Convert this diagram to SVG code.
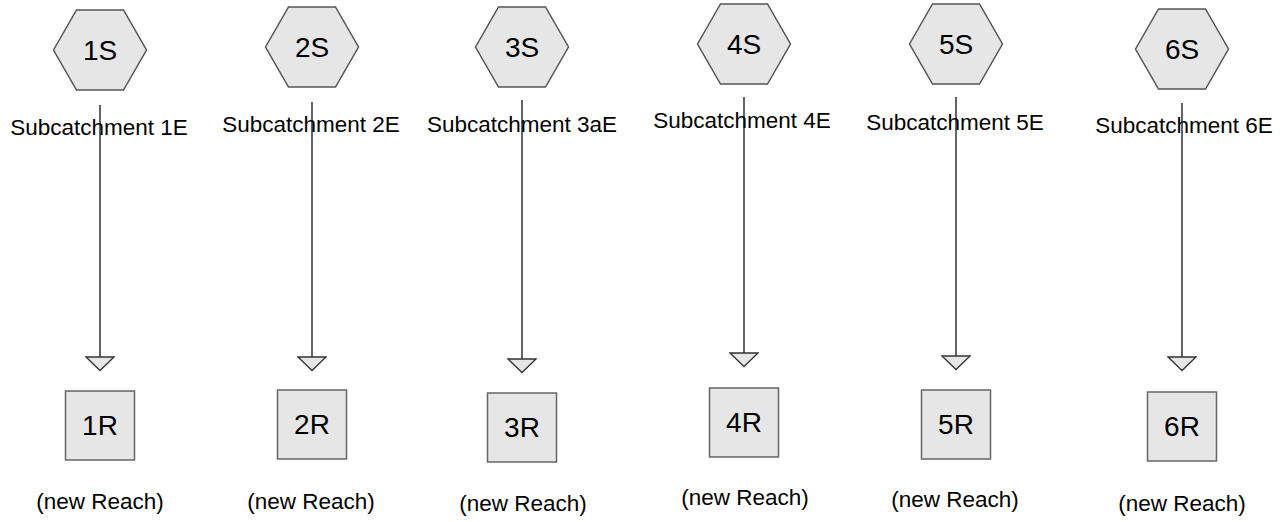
<svg xmlns="http://www.w3.org/2000/svg" width="1286" height="522" viewBox="0 0 1286 522">
<defs>
<style>
.hex{fill:#e6e6e6;stroke:#555;stroke-width:1.5}
.box{fill:#e6e6e6;stroke:#666;stroke-width:1.5}
.big{font-family:"Liberation Sans",Arial,sans-serif;font-size:28px;fill:#000;text-anchor:middle}
.lbl{font-family:"Liberation Sans",Arial,sans-serif;font-size:22.5px;fill:#000;text-anchor:middle}
.conn{stroke:#222;stroke-width:1.4;fill:none;marker-end:url(#tri)}
</style>
<marker id="tri" markerUnits="userSpaceOnUse" viewBox="-1 -15 17 30" markerWidth="17" markerHeight="30" refX="0" refY="0" orient="auto">
<path d="M0,-14 L13.5,0 L0,14 Z" fill="#e6e6e6" stroke="#333" stroke-width="1.3"/>
</marker>
<polygon id="hx" points="-46.5,0 -23.5,-40 23.5,-40 46.5,0 23.5,40 -23.5,40"/>
</defs>
<rect width="1286" height="522" fill="#fff"/>
<g id="connectors">
<line class="conn" x1="100" y1="105" x2="100" y2="357"/>
<line class="conn" x1="312" y1="102" x2="312" y2="357"/>
<line class="conn" x1="522" y1="100" x2="522" y2="359"/>
<line class="conn" x1="744" y1="97" x2="744" y2="353"/>
<line class="conn" x1="956" y1="97" x2="956" y2="356"/>
<line class="conn" x1="1182" y1="103" x2="1182" y2="357"/>
</g>
<g id="n1S"><use href="#hx" class="hex" x="100" y="50"/><text class="big" x="100" y="60">1S</text><text class="lbl" x="99" y="135">Subcatchment 1E</text></g>
<g id="n2S"><use href="#hx" class="hex" x="312" y="47"/><text class="big" x="312" y="57">2S</text><text class="lbl" x="311" y="132">Subcatchment 2E</text></g>
<g id="n3S"><use href="#hx" class="hex" x="522" y="47"/><text class="big" x="522" y="57">3S</text><text class="lbl" x="522" y="132">Subcatchment 3aE</text></g>
<g id="n4S"><use href="#hx" class="hex" x="744" y="44"/><text class="big" x="744" y="54">4S</text><text class="lbl" x="742" y="128">Subcatchment 4E</text></g>
<g id="n5S"><use href="#hx" class="hex" x="956" y="44"/><text class="big" x="956" y="54">5S</text><text class="lbl" x="955" y="130">Subcatchment 5E</text></g>
<g id="n6S"><use href="#hx" class="hex" x="1182" y="49"/><text class="big" x="1182" y="59">6S</text><text class="lbl" x="1184" y="133">Subcatchment 6E</text></g>
<g id="n1R"><rect class="box" x="65.5" y="391" width="69" height="69"/><text class="big" x="100" y="435">1R</text><text class="lbl" x="100" y="509">(new Reach)</text></g>
<g id="n2R"><rect class="box" x="277.5" y="390" width="69" height="69"/><text class="big" x="312" y="434">2R</text><text class="lbl" x="311" y="509">(new Reach)</text></g>
<g id="n3R"><rect class="box" x="487.5" y="393" width="69" height="69"/><text class="big" x="522" y="437">3R</text><text class="lbl" x="523" y="511">(new Reach)</text></g>
<g id="n4R"><rect class="box" x="709.5" y="388" width="69" height="69"/><text class="big" x="744" y="432">4R</text><text class="lbl" x="745" y="505">(new Reach)</text></g>
<g id="n5R"><rect class="box" x="921.5" y="390" width="69" height="69"/><text class="big" x="956" y="434">5R</text><text class="lbl" x="955" y="507">(new Reach)</text></g>
<g id="n6R"><rect class="box" x="1147.5" y="392" width="69" height="69"/><text class="big" x="1182" y="436">6R</text><text class="lbl" x="1182" y="511">(new Reach)</text></g>
</svg>
